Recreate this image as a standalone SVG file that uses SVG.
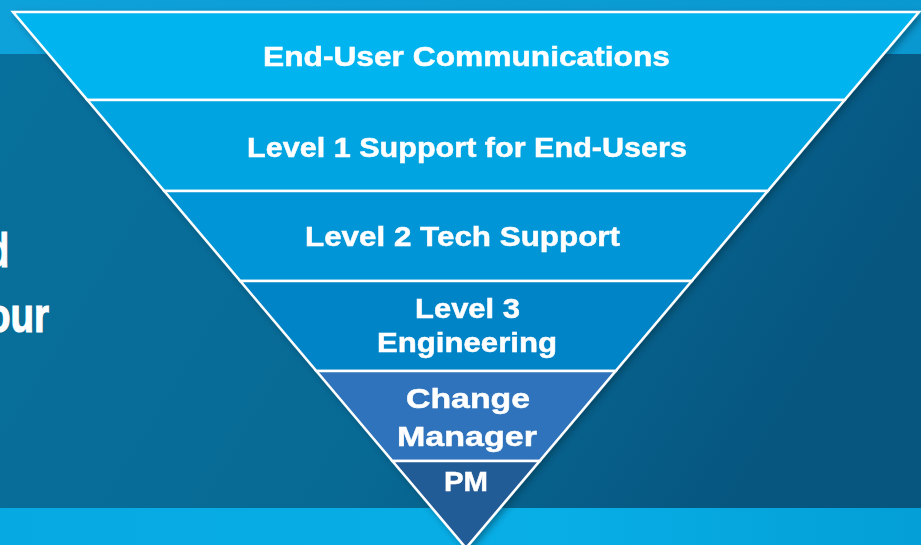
<svg xmlns="http://www.w3.org/2000/svg" width="921" height="545" viewBox="0 0 921 545">
  <style>
    .band { stroke: #ffffff; stroke-width: 2.5; stroke-linejoin: miter; }
    .lbl { font-family: "Liberation Sans", Arial, sans-serif; font-weight: bold; font-size: 28px; fill: #ffffff; stroke: #ffffff; stroke-width: 0.5; text-anchor: middle; }
    .side { font-family: "Liberation Sans", Arial, sans-serif; font-weight: bold; font-size: 48px; fill: #ffffff; stroke: #ffffff; stroke-width: 1.2; }
  </style>
  <defs>
    <linearGradient id="topStrip" x1="0" y1="0" x2="1" y2="0">
      <stop offset="0" stop-color="#0ea2da"/>
      <stop offset="1" stop-color="#0a98d0"/>
    </linearGradient>
    <linearGradient id="darkPanel" x1="0" y1="0" x2="1" y2="0.3">
      <stop offset="0" stop-color="#08709c"/>
      <stop offset="0.6" stop-color="#076a95"/>
      <stop offset="1" stop-color="#065680"/>
    </linearGradient>
    <linearGradient id="bottomStrip" x1="0" y1="0" x2="1" y2="0">
      <stop offset="0" stop-color="#07a9e2"/>
      <stop offset="0.6" stop-color="#08aee6"/>
      <stop offset="1" stop-color="#039fd6"/>
    </linearGradient>
    <filter id="shadow" x="-5%" y="-5%" width="115%" height="115%">
      <feDropShadow dx="3" dy="3" stdDeviation="3" flood-color="#002a40" flood-opacity="0.45"/>
    </filter>
  </defs>

  <!-- background -->
  <rect x="0" y="0" width="921" height="545" fill="url(#topStrip)"/>
  <rect x="0" y="54" width="921" height="454" fill="url(#darkPanel)"/>
  <rect x="0" y="508" width="921" height="37" fill="url(#bottomStrip)"/>

  <!-- partially hidden side text (cut off at the left edge, as in the picture) -->
  <text class="side" x="-12" y="267" textLength="21" lengthAdjust="spacingAndGlyphs">d</text>
  <text class="side" x="-13" y="332" textLength="62" lengthAdjust="spacingAndGlyphs">our</text>

  <g id="pyramid" filter="url(#shadow)">
    <g id="node-end-user-communications">
      <polygon class="band" fill="#00b5ef" points="13,12 919,12 844.6,100 87.4,100"/>
      <text class="lbl" x="466.5" y="66" textLength="407" lengthAdjust="spacingAndGlyphs">End-User Communications</text>
    </g>
    <g id="node-level1">
      <polygon class="band" fill="#00a4e1" points="87.4,100 844.6,100 767.7,191 164.3,191"/>
      <text class="lbl" x="467" y="157" textLength="440" lengthAdjust="spacingAndGlyphs">Level 1 Support for End-Users</text>
    </g>
    <g id="node-level2">
      <polygon class="band" fill="#0095d6" points="164.3,191 767.7,191 691.7,281 240.3,281"/>
      <text class="lbl" x="462.5" y="246" textLength="315" lengthAdjust="spacingAndGlyphs">Level 2 Tech Support</text>
    </g>
    <g id="node-level3">
      <polygon class="band" fill="#0084c8" points="240.3,281 691.7,281 615.6,371 316.4,371"/>
      <text class="lbl" x="467.5" y="318" textLength="105" lengthAdjust="spacingAndGlyphs">Level 3</text>
      <text class="lbl" x="467" y="352" textLength="180" lengthAdjust="spacingAndGlyphs">Engineering</text>
    </g>
    <g id="node-change-manager">
      <polygon class="band" fill="#2f73bb" points="316.4,371 615.6,371 539.6,461 392.4,461"/>
      <text class="lbl" x="468" y="408" textLength="124" lengthAdjust="spacingAndGlyphs">Change</text>
      <text class="lbl" x="467" y="446" textLength="140" lengthAdjust="spacingAndGlyphs">Manager</text>
    </g>
    <g id="node-pm">
      <polygon class="band" fill="#245b96" points="392.4,461 539.6,461 466,548"/>
      <text class="lbl" x="466" y="491" textLength="44" lengthAdjust="spacingAndGlyphs">PM</text>
    </g>
  </g>
</svg>
